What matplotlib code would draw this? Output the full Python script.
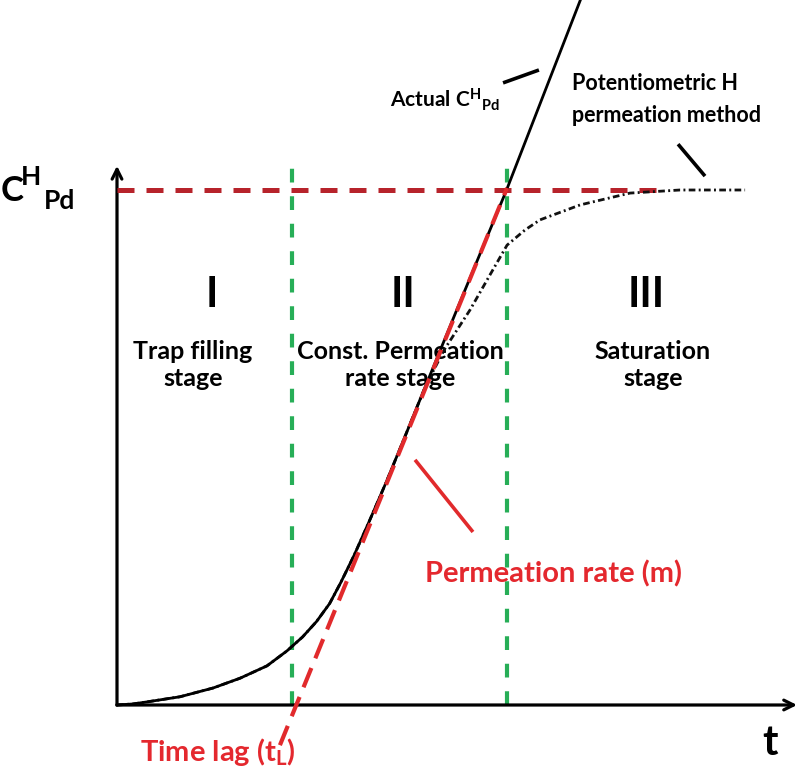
import matplotlib
matplotlib.use("Agg")
import matplotlib.pyplot as plt

plt.rcParams["font.family"] = ["Lato", "DejaVu Sans"]
plt.rcParams["font.weight"] = "bold"
plt.rcParams["mathtext.fontset"] = "custom"
plt.rcParams["mathtext.rm"] = "Lato:bold"
plt.rcParams["mathtext.bf"] = "Lato:bold"
plt.rcParams["mathtext.it"] = "Lato:bold"

# ── Data (schematic units: t in arbitrary time, c normalised to saturation) ──
actual_t = [0.0, 0.090, 0.171, 0.360, 0.549, 0.703, 0.857, 0.971, 1.060,
            1.140, 1.215, 1.279, 1.354, 1.438, 1.535, 1.632, 1.764, 1.945,
            2.226, 2.648]
actual_c = [0.0, 0.002, 0.006, 0.016, 0.033, 0.052, 0.076, 0.105, 0.132,
            0.162, 0.197, 0.238, 0.290, 0.354, 0.430, 0.510, 0.620, 0.770,
            1.000, 1.369]

potent_t = [0.0, 0.090, 0.171, 0.360, 0.549, 0.703, 0.857, 0.971, 1.060,
            1.140, 1.215, 1.279, 1.354, 1.438, 1.535, 1.632, 1.764, 1.870,
            2.017, 2.131, 2.229, 2.330, 2.417, 2.646, 2.931, 3.217, 3.589]
potent_c = [0.0, 0.002, 0.006, 0.016, 0.033, 0.052, 0.076, 0.105, 0.132,
            0.162, 0.197, 0.238, 0.290, 0.354, 0.430, 0.510, 0.620, 0.690,
            0.767, 0.835, 0.893, 0.922, 0.942, 0.971, 0.994, 1.000, 1.000]

tangent_t = [0.931, 2.229]
tangent_c = [-0.078, 1.004]

C_SAT     = 1.0
SAT_END   = 3.143
STAGE_T   = [1.0, 2.229]
STAGE_TOP = [1.054, 1.049]

AXIS_T_MAX = 3.886
AXIS_C_MAX = 1.047

# pointer lines for the labels
ptr_rate   = ([1.703, 2.034], [0.476, 0.336])
ptr_actual = ([2.206, 2.411], [1.208, 1.233])
ptr_potent = ([3.206, 3.360], [1.089, 1.027])

RED_TXT  = "#e4282e"
RED_DARK = "#b7232b"
RED_TAN  = "#e12a2c"
GREEN    = "#27ae57"

# ── Figure ────────────────────────────────────────────────────────────────────
fig = plt.figure(figsize=(8, 7.77), dpi=100)
ax = fig.add_axes([0, 0, 1, 1])
ax.set_xlim(-117 / 175, (800 - 117) / 175)
ax.set_ylim((705 - 777) / 515, 705 / 515)
ax.axis("off")

# axes with open arrow heads
arrow = dict(arrowstyle="->,head_length=0.7,head_width=0.35", lw=2.3,
             color="black", shrinkA=0, shrinkB=0)
ax.annotate("", xy=(0, AXIS_C_MAX), xytext=(0, 0), arrowprops=arrow)
ax.annotate("", xy=(AXIS_T_MAX, 0), xytext=(0, 0), arrowprops=arrow)

# stage boundaries
for t, top in zip(STAGE_T, STAGE_TOP):
    ax.plot([t, t], [0, top], color=GREEN, lw=3.0, dashes=(3.3, 3.3), zorder=2)

# saturation level
ax.plot([0, SAT_END], [C_SAT, C_SAT], color=RED_DARK, lw=3.6,
        dashes=(3.4, 2.4), zorder=3)

# curves
ax.plot(potent_t, potent_c, color="#111111", lw=2.0,
        dashes=(2.4, 1.2, 0.7, 1.2), zorder=4)
ax.plot(actual_t, actual_c, color="black", lw=2.0, zorder=5,
        solid_joinstyle="round")
ax.plot(tangent_t, tangent_c, color=RED_TAN, lw=3.0, dashes=(5, 2.5),
        zorder=6)

# pointers
ax.plot(*ptr_rate, color=RED_TAN, lw=2.6, solid_capstyle="butt")
ax.plot(*ptr_actual, color="black", lw=2.6, solid_capstyle="butt")
ax.plot(*ptr_potent, color="black", lw=2.6, solid_capstyle="butt")

# ── Text ──────────────────────────────────────────────────────────────────────
ax.text(-0.600, 0.998, "C", fontsize=25, ha="center", va="center")
ax.text(-0.491, 1.025, "H", fontsize=19, ha="center", va="center")
ax.text(-0.331, 0.978, "Pd", fontsize=19, ha="center", va="center")

for label, t in zip(["I", "II", "III"], [0.543, 1.634, 3.023]):
    ax.text(t, 0.796, label, fontsize=30, ha="center", va="center")

stage_txt = ["Trap filling\nstage", "Const. Permeation\nrate stage",
             "Saturation\nstage"]
for label, t in zip(stage_txt, [0.434, 1.617, 3.063]):
    ax.text(t, 0.660, label, fontsize=18, ha="center", va="center",
            linespacing=1.2)

ax.text(2.497, 0.254, "Permeation rate (m)", fontsize=21, color=RED_TXT,
        ha="center", va="center")
ax.text(0.577, -0.091, r"Time lag (t$_{\mathrm{L}}$)", fontsize=21,
        color=RED_TXT, ha="center", va="center")

ax.text(1.56, 1.161, r"Actual C$^{\mathrm{H}}$$_{\mathrm{Pd}}$", fontsize=15,
        ha="left", va="baseline")
ax.text(2.60, 1.228, "Potentiometric H\npermeation method", fontsize=15.5,
        ha="left", va="top", linespacing=1.7)

ax.text(3.731, -0.074, "t", fontsize=30, ha="center", va="center")

fig.savefig("out.png", dpi=100)
